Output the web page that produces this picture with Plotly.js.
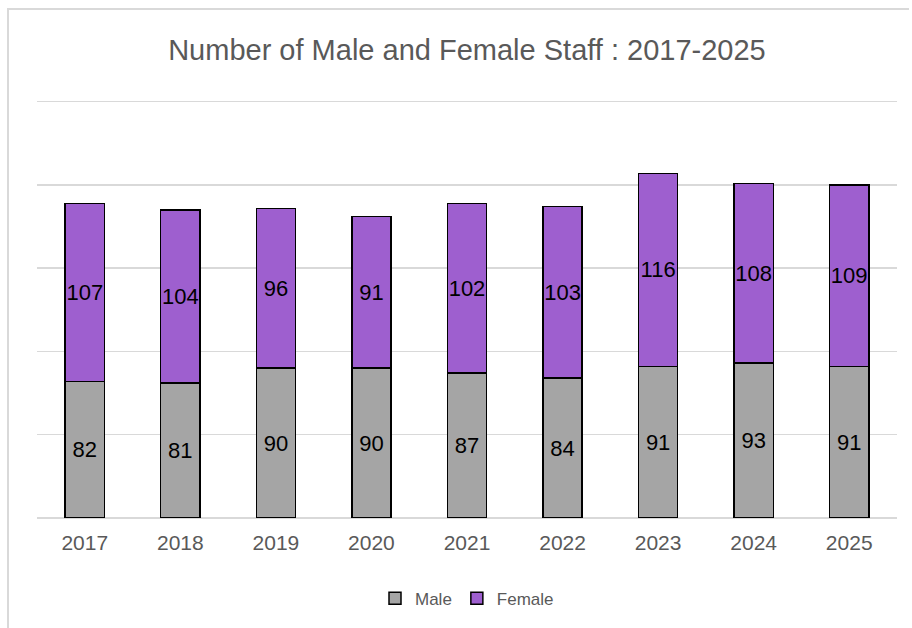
<!DOCTYPE html>
<html>
<head>
<meta charset="utf-8">
<script src="https://cdn.plot.ly/plotly-3.0.1.min.js"></script>
<style>
  html, body { margin: 0; padding: 0; background: #ffffff; }
  #wrap { position: relative; width: 912px; height: 628px; overflow: hidden; }
  #chart { width: 912px; height: 628px; }
  #frame { position: absolute; left: 7px; top: 8px; width: 900px; height: 700px;
           border-top: 2px solid #d9d9d9; border-left: 2px solid #d9d9d9; pointer-events: none; }
</style>
</head>
<body>
<div id="wrap">
  <div id="chart"></div>
  <div id="frame"></div>
</div>
<script>
const years = ["2017", "2018", "2019", "2020", "2021", "2022", "2023", "2024", "2025"];
const male = [82, 81, 90, 90, 87, 84, 91, 93, 91];
const female = [107, 104, 96, 91, 102, 103, 116, 108, 109];

const FONT = "Liberation Sans, Arial, sans-serif";

const common = {
  type: "bar",
  x: years,
  textposition: "inside",
  insidetextanchor: "middle",
  textangle: 0,
  constraintext: "none",
  textfont: { family: FONT, size: 22, color: "#000000" },
  hoverinfo: "x+y+name"
};

const traces = [
  Object.assign({}, common, {
    name: "Male",
    y: male,
    text: male.map(String),
    marker: { color: "#A5A5A5", line: { color: "#000000", width: 1.5 } }
  }),
  Object.assign({}, common, {
    name: "Female",
    y: female,
    text: female.map(String),
    marker: { color: "#9E5FCF", line: { color: "#000000", width: 1.5 } }
  })
];

const layout = {
  width: 912,
  height: 628,
  barmode: "stack",
  bargap: 0.59,
  paper_bgcolor: "#ffffff",
  plot_bgcolor: "#ffffff",
  margin: { l: 37, r: 15, t: 100, b: 109 },
  title: {
    text: "Number of Male and Female Staff : 2017-2025",
    font: { family: FONT, size: 29, color: "#595959" },
    x: 0.512, xanchor: "center",
    y: 0.92, yanchor: "middle"
  },
  xaxis: {
    type: "category",
    tickfont: { family: FONT, size: 21, color: "#595959" },
    showgrid: false,
    showline: false,
    ticks: "",
    ticklabelstandoff: 10
  },
  yaxis: {
    range: [0, 251],
    tick0: 0,
    dtick: 50,
    showticklabels: false,
    showgrid: true,
    gridcolor: "#d9d9d9",
    gridwidth: 1.5,
    zeroline: true,
    zerolinecolor: "#d9d9d9",
    zerolinewidth: 1.5,
    ticks: ""
  },
  showlegend: true,
  legend: {
    orientation: "h",
    x: 0.5, xanchor: "center",
    y: -0.19, yanchor: "middle",
    font: { family: FONT, size: 17, color: "#595959" },
    traceorder: "normal",
    itemwidth: 30
  }
};

Plotly.newPlot("chart", traces, layout, { displayModeBar: false, staticPlot: true });
</script>
</body>
</html>
